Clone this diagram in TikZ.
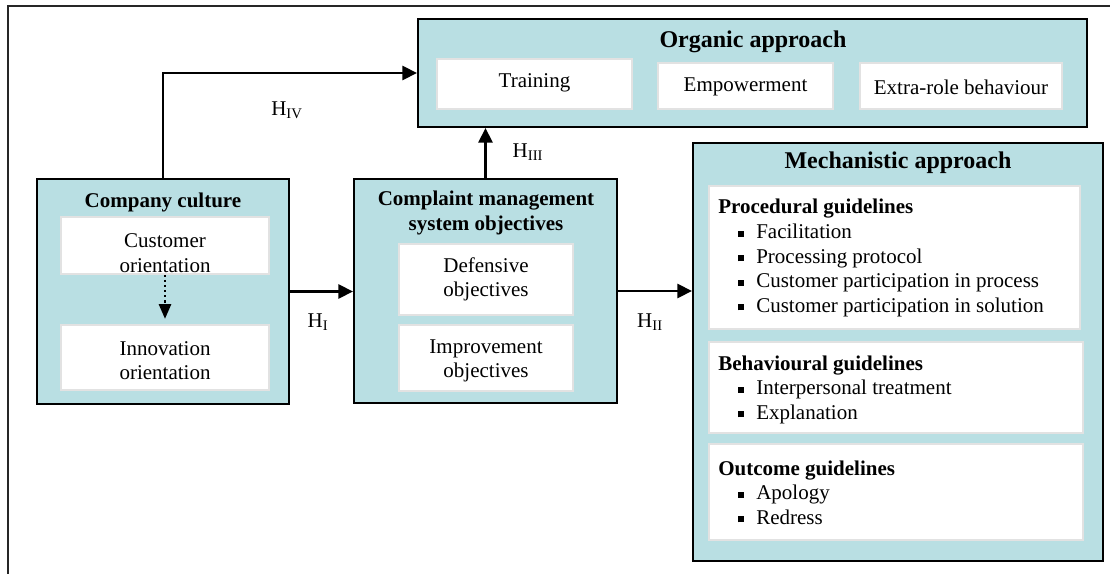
\documentclass[tikz,border=0pt]{standalone}
\usepackage{fontspec}
\setmainfont{Liberation Serif}
\usetikzlibrary{arrows.meta,fit}

\definecolor{paleteal}{RGB}{185,223,227}
\definecolor{rimgray}{RGB}{226,226,226}

\newcommand{\boxfont}{\fontsize{15.75}{18.4}\selectfont}
\newcommand{\titlefont}{\fontsize{18}{21}\selectfont\bfseries}
\newcommand{\sqbul}{\hspace*{15pt}\rule[1.3pt]{4.5pt}{4.5pt}\hspace{9pt}}

\tikzset{
  outerbox/.style={draw=black, line width=1.5pt, fill=paleteal, inner sep=0pt},
  innerbox/.style={draw=rimgray, line width=1.2pt, fill=white, inner sep=0pt},
  txt/.style={inner sep=0pt, align=center, font=\boxfont},
  head/.style={inner sep=0pt, align=center, font=\boxfont\bfseries},
  listtxt/.style={inner sep=0pt, align=left, anchor=west, font=\boxfont},
  link/.style={line width=2.2pt, -{Triangle[length=11pt,width=10.5pt]}},
  hyp/.style={inner sep=0pt, font=\boxfont},
}

\begin{document}
\begin{tikzpicture}[x=0.75pt,y=-0.75pt]
\useasboundingbox (0,0) rectangle (1110,574);
\draw[line width=1.5pt, black!85] (8,574) -- (8,6) -- (1110,6);

% organic approach
\node[outerbox, fit={(418,19) (1087,127)}] (organic) {};
\node[font=\titlefont, inner sep=0pt] (orgtitle) at (753,42) {Organic approach};
\node[innerbox, fit={(437,59) (632,109)}] (training) {};
\node[innerbox, fit={(658,63) (833,109)}] (empower) {};
\node[innerbox, fit={(860,63) (1062,109)}] (extrarole) {};
\node[txt] (trainingtxt) at (534.5,83) {Training};
\node[txt] (empowertxt) at (745.5,87) {Empowerment};
\node[txt] (extraroletxt) at (961,87) {Extra-role behaviour};

% company culture
\node[outerbox, fit={(37,179) (289,404)}] (culture) {};
\node[head] (culttitle) at (163,202) {Company culture};
\node[innerbox, fit={(61,217) (269,274)}] (custor) {};
\node[innerbox, fit={(61,325) (269,390)}] (innovor) {};
\node[txt] (custortxt) at (165,253) {Customer\\orientation};
\node[txt] (innovortxt) at (165,360.5) {Innovation\\orientation};

% complaint management system
\node[outerbox, fit={(354,179) (617,403)}] (cms) {};
\node[head] (cmstitle) at (486,213) {Complaint management\\system objectives};
\node[innerbox, fit={(399,244) (573,315)}] (defobj) {};
\node[innerbox, fit={(399,325) (573,391)}] (impobj) {};
\node[txt] (defobjtxt) at (486,279.5) {Defensive\\objectives};
\node[txt] (impobjtxt) at (486,361) {Improvement\\objectives};

% mechanistic approach
\node[outerbox, fit={(693,143) (1103,561)}] (mech) {};
\node[font=\titlefont, inner sep=0pt] (mechtitle) at (898,163) {Mechanistic approach};
\node[innerbox, fit={(709,186) (1080,329)}] (procg) {};
\node[innerbox, fit={(709,342) (1083,433)}] (behavg) {};
\node[innerbox, fit={(709,444) (1083,540)}] (outcg) {};
\node[listtxt] (procgtxt) at (718,258) {\textbf{Procedural guidelines}\\
  \sqbul Facilitation\\ \sqbul Processing protocol\\
  \sqbul Customer participation in process\\ \sqbul Customer participation in solution};
\node[listtxt] (behavgtxt) at (718,389.5) {\textbf{Behavioural guidelines}\\
  \sqbul Interpersonal treatment\\ \sqbul Explanation};
\node[listtxt] (outcgtxt) at (718,492.5) {\textbf{Outcome guidelines}\\
  \sqbul Apology\\ \sqbul Redress};

% hypotheses
\draw[link] (culture.north) |- (organic.west);
\draw[link] (culture.east) -- (culture.east -| cms.west);
\draw[link] (cms.north) -- (cms.north |- organic.south);
\draw[link] (cms.east) -- (cms.east -| mech.west);
\draw[line width=1.8pt, dotted, -{Triangle[length=11pt,width=9pt]}, shorten >=4pt]
  (custor.south) -- (innovor.north);

\node[hyp] (h4) at (287,110) {H\textsubscript{IV}};
\node[hyp] (h3) at (528,152) {H\textsubscript{III}};
\node[hyp] (h1) at (318,322) {H\textsubscript{I}};
\node[hyp] (h2) at (650,322) {H\textsubscript{II}};
\end{tikzpicture}
\end{document}
